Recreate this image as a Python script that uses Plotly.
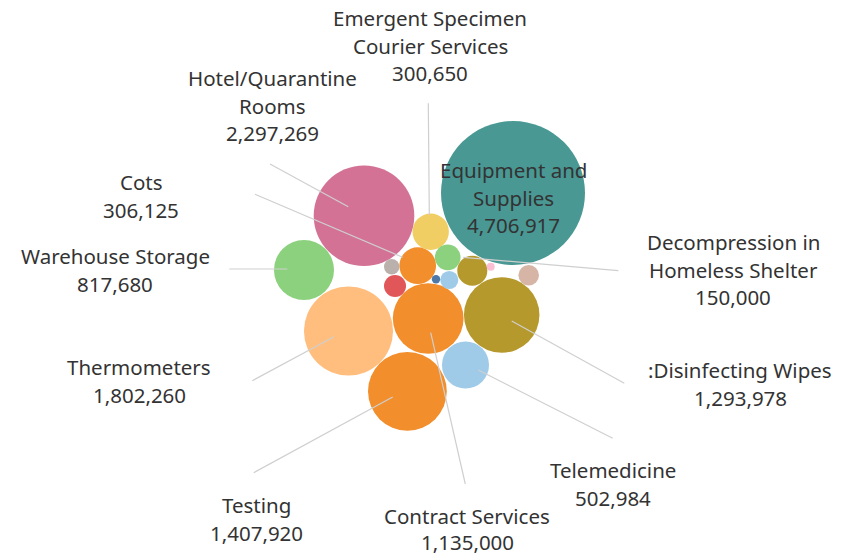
import math
import plotly.graph_objects as go

# ---- data ----
categories = [
    "Equipment and Supplies", "Hotel/Quarantine Rooms", "Thermometers", "Testing",
    "Disinfecting Wipes", "Contract Services", "Warehouse Storage", "Telemedicine",
    "Cots", "Emergent Specimen Courier Services", "Decompression in Homeless Shelter",
    "Other A", "Other B", "Other C", "Other D", "Other E", "Other F", "Other G",
]
amounts = [
    4706917, 2297269, 1802260, 1407920,
    1293978, 1135000, 817680, 502984,
    306125, 300650, 150000,
    205000, 110000, 96000, 74000, 54000, 16000, 14500,
]
label_lines = {
    "Equipment and Supplies": ["Equipment and", "Supplies"],
    "Hotel/Quarantine Rooms": ["Hotel/Quarantine", "Rooms"],
    "Thermometers": ["Thermometers"],
    "Testing": ["Testing"],
    "Disinfecting Wipes": [":Disinfecting Wipes"],
    "Contract Services": ["Contract Services"],
    "Warehouse Storage": ["Warehouse Storage"],
    "Telemedicine": ["Telemedicine"],
    "Cots": ["Cots"],
    "Emergent Specimen Courier Services": ["Emergent Specimen", "Courier Services"],
    "Decompression in Homeless Shelter": ["Decompression in", "Homeless Shelter"],
}

# ---- packed-bubble layout (centres in page pixels) ----
pack_x = [513, 364, 348.5, 407.4, 501.7, 428.2, 304, 465.5, 417.7, 430.7, 447.7,
          472.3, 395, 528.7, 449.3, 391.7, 436, 490.7]
pack_y = [193, 215.8, 331, 391.3, 315, 318.5, 270, 365, 265.7, 231.7, 257.3,
          270.7, 286, 275.3, 280, 266.7, 279.3, 266.7]
colors = ["#499894", "#d37295", "#ffbe7d", "#f28e2b", "#b6992d", "#f28e2b", "#8cd17d",
          "#a0cbe8", "#f28e2b", "#f1ce63", "#8cd17d", "#b6992d", "#e15759", "#d7b5a6",
          "#a0cbe8", "#bab0ac", "#4e79a7", "#fabfd2"]

# label placement: (centre x, first line y, line spacing) and leader line
label_pos = {
    "Equipment and Supplies": (513, 170, 27.6, None),
    "Hotel/Quarantine Rooms": (272, 78, 27.6, ((270, 164), (348.3, 206.7))),
    "Thermometers": (139, 367, 27.6, ((252.3, 380.7), (334, 336.7))),
    "Testing": (256, 505, 27.6, ((253.7, 472.7), (392.7, 397))),
    "Disinfecting Wipes": (740, 370, 27.6, ((624.3, 383.3), (511.7, 321))),
    "Contract Services": (467, 516, 26.0, ((465.3, 484), (430.7, 332.7))),
    "Warehouse Storage": (115, 256, 27.6, ((229.3, 269), (287.3, 269))),
    "Telemedicine": (613, 470, 27.6, ((612.7, 438.3), (478.3, 370))),
    "Cots": (141, 182, 27.6, ((255, 194.3), (402.7, 257.3))),
    "Emergent Specimen Courier Services": (430, 18, 27.6, ((428.3, 103.3), (429.3, 215))),
    "Decompression in Homeless Shelter": (733, 242, 27.6, ((618.3, 270.7), (463.3, 257.3))),
}

W, H = 852, 556
R_MAX = 72.0
k = R_MAX / math.sqrt(max(amounts))
diam = [2 * k * math.sqrt(v) for v in amounts]

fig = go.Figure()
fig.add_trace(go.Scatter(
    x=pack_x, y=pack_y, mode="markers",
    marker=dict(size=diam, sizemode="diameter", color=colors, opacity=1,
                line=dict(width=0)),
    text=categories, customdata=amounts,
    hovertemplate="%{text}<br>%{customdata:,}<extra></extra>",
    showlegend=False,
))

lx, ly = [], []
for name, (cx, cy, lh, seg) in label_pos.items():
    if seg:
        lx += [seg[0][0], seg[1][0], None]
        ly += [seg[0][1], seg[1][1], None]
fig.add_trace(go.Scatter(x=lx, y=ly, mode="lines",
                         line=dict(color="#cfcfcf", width=1.2),
                         hoverinfo="skip", showlegend=False))

annotations = []
for name, (cx, cy, lh, seg) in label_pos.items():
    v = amounts[categories.index(name)]
    lines = label_lines[name] + [f"{v:,}"]
    for i, t in enumerate(lines):
        annotations.append(dict(
            x=cx, y=cy + i * lh, xref="x", yref="y", text=t, showarrow=False,
            xanchor="center", yanchor="middle", borderpad=0,
            font=dict(family="Noto Sans", size=20.5, color="#333333"),
        ))

fig.update_layout(
    width=W, height=H, margin=dict(l=0, r=0, t=0, b=0),
    paper_bgcolor="white", plot_bgcolor="white",
    xaxis=dict(range=[0, W], visible=False, fixedrange=True),
    yaxis=dict(range=[H, 0], visible=False, fixedrange=True),
    annotations=annotations,
)
fig.write_html("out.html", config={"displayModeBar": False},
               post_script="document.body.style.margin='0px';document.body.style.overflow='hidden';")
